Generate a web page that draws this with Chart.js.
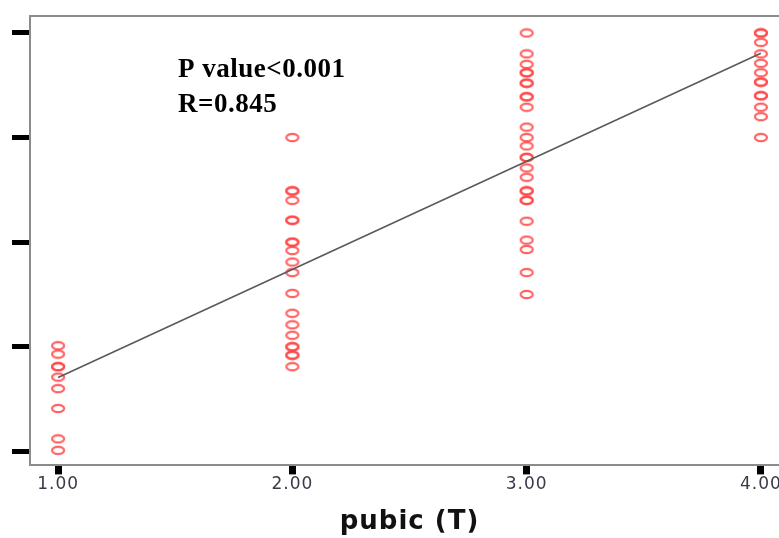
<!DOCTYPE html>
<html>
<head>
<meta charset="utf-8">
<script src="https://cdn.jsdelivr.net/npm/chart.js@4/dist/chart.umd.min.js"></script>
<style>
  html, body { margin: 0; padding: 0; background: #fff; overflow: hidden; }
  #wrap { width: 810px; height: 538px; }
</style>
</head>
<body>
<div id="wrap"><canvas id="c" width="810" height="538"></canvas></div>
<script>
// ---- data ----
const categories = [1, 2, 3, 4];
const xTickLabels = ["1.00", "2.00", "3.00", "4.00"];
const yTicks = [0, 1, 2, 3, 4];
const valuesAt1 = [1.01, 0.93, 0.81, 0.81, 0.71, 0.60, 0.41, 0.12, 0.01];
const valuesAt2 = [3.00, 2.49, 2.49, 2.40, 2.21, 2.21, 2.00, 2.00, 1.92, 1.81, 1.71, 1.51, 1.32, 1.21, 1.11, 1.00, 1.00, 0.92, 0.92, 0.81];
const valuesAt3 = [4.00, 3.80, 3.70, 3.62, 3.62, 3.52, 3.52, 3.39, 3.39, 3.29, 3.10, 3.00, 2.92, 2.81, 2.81, 2.71, 2.62, 2.49, 2.49, 2.40, 2.40, 2.20, 2.02, 1.93, 1.71, 1.50];
const valuesAt4 = [4.00, 4.00, 3.91, 3.80, 3.71, 3.62, 3.53, 3.53, 3.40, 3.40, 3.29, 3.20, 3.00];
const fitLineX = [1, 4];
const fitLineY = [0.706, 3.806];
const statLines = ["P value<0.001", "R=0.845"];
const xTitle = "pubic (T)";

const groups = [valuesAt1, valuesAt2, valuesAt3, valuesAt4];
const scatterPoints = [];
groups.forEach((vals, i) => vals.forEach(v => scatterPoints.push({ x: categories[i], y: v })));
const linePoints = fitLineX.map((x, i) => ({ x: x, y: fitLineY[i] }));

// hollow elliptical marker
const marker = document.createElement('canvas');
marker.width = 16; marker.height = 11;
(function () {
  const m = marker.getContext('2d');
  m.strokeStyle = 'rgba(255,70,70,0.85)';
  m.lineWidth = 2.2;
  m.beginPath();
  m.ellipse(8, 5.5, 6, 3.7, 0, 0, Math.PI * 2);
  m.stroke();
})();

const framePlugin = {
  id: 'frame',
  beforeDraw(chart) {
    chart.ctx.letterSpacing = '1px';
  },
  beforeDatasetsDraw(chart) {
    const a = chart.chartArea, ctx = chart.ctx;
    ctx.save();
    ctx.strokeStyle = '#8c8c8c';
    ctx.lineWidth = 2;
    ctx.beginPath();
    ctx.moveTo(a.left, a.top);
    ctx.lineTo(a.right, a.top);
    ctx.lineTo(a.right, a.bottom);
    ctx.stroke();
    ctx.restore();
  }
};

const statPlugin = {
  id: 'stats',
  afterDatasetsDraw(chart) {
    const a = chart.chartArea, ctx = chart.ctx;
    ctx.save();
    ctx.letterSpacing = '0.5px';
    ctx.fillStyle = '#000';
    ctx.font = 'bold 27px "Liberation Serif", "Times New Roman", serif';
    ctx.textBaseline = 'alphabetic';
    ctx.textAlign = 'left';
    statLines.forEach((t, i) => ctx.fillText(t, a.left + 148, a.top + 61 + i * 35));
    ctx.restore();
  }
};

new Chart(document.getElementById('c'), {
  type: 'scatter',
  data: {
    datasets: [
      {
        type: 'line',
        data: linePoints,
        borderColor: '#5a5a5a',
        borderWidth: 1.6,
        pointRadius: 0,
        fill: false,
        order: 1
      },
      {
        data: scatterPoints,
        pointStyle: marker,
        pointRadius: 6,
        order: 2
      }
    ]
  },
  options: {
    responsive: false,
    animation: false,
    devicePixelRatio: 1,
    layout: { padding: { left: 12, top: 16, right: 21, bottom: 0 } },
    plugins: { legend: { display: false }, tooltip: { enabled: false } },
    scales: {
      x: {
        type: 'linear',
        min: 0.88,
        max: 4.12,
        afterBuildTicks: (axis) => { axis.ticks = categories.map(v => ({ value: v })); },
        ticks: {
          callback: (v) => xTickLabels[categories.indexOf(v)] ?? '',
          font: { family: '"DejaVu Sans", sans-serif', size: 17 },
          color: '#3a3a48',
          padding: 0,
          maxRotation: 0
        },
        grid: { drawOnChartArea: false, tickLength: 9, tickWidth: 7, tickColor: '#000' },
        border: { color: '#8c8c8c', width: 2 },
        title: {
          display: true,
          text: xTitle,
          font: { family: '"DejaVu Sans", sans-serif', size: 26, weight: 'bold' },
          color: '#111',
          padding: { top: 12, bottom: 0 }
        }
      },
      y: {
        type: 'linear',
        min: -0.134,
        max: 4.162,
        afterBuildTicks: (axis) => { axis.ticks = yTicks.map(v => ({ value: v })); },
        ticks: { display: false },
        grid: { drawOnChartArea: false, tickLength: 18, tickWidth: 5, tickColor: '#000' },
        border: { color: '#8c8c8c', width: 2 }
      }
    }
  },
  plugins: [framePlugin, statPlugin]
});
</script>
</body>
</html>
